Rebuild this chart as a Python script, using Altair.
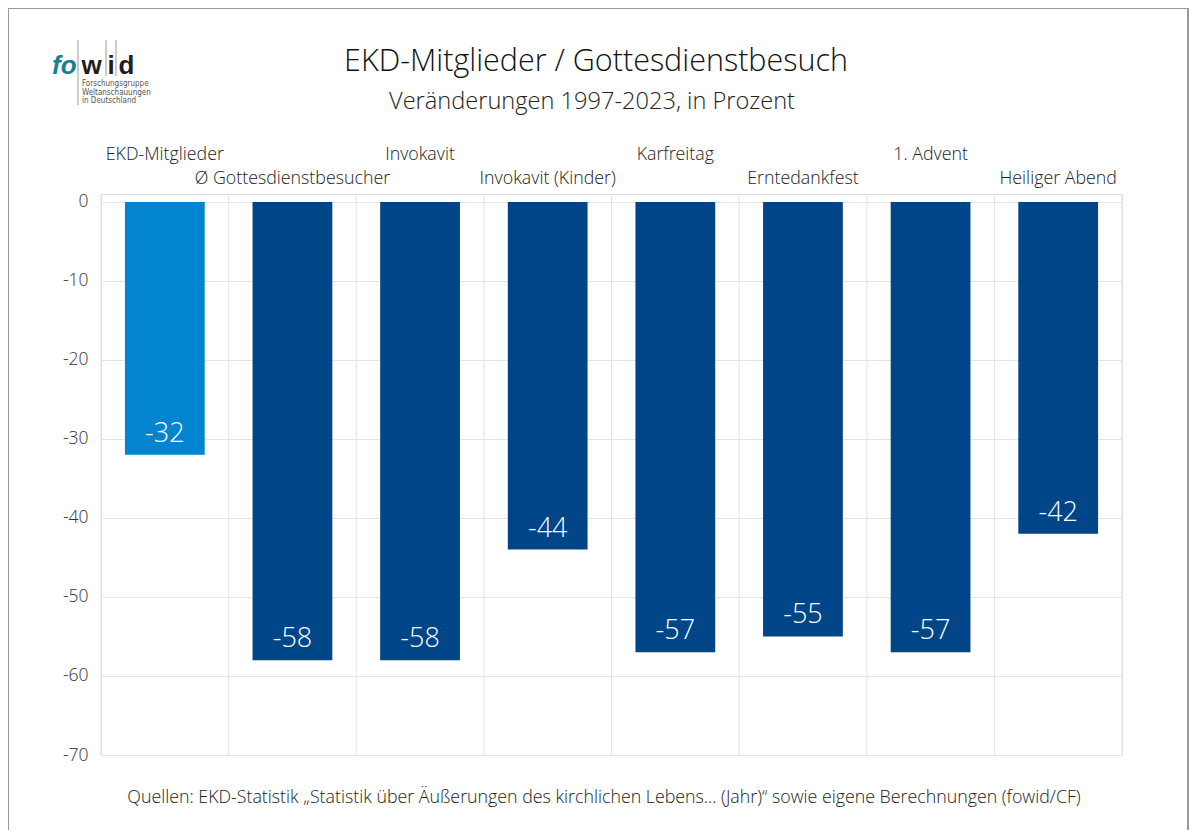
import altair as alt
import pandas as pd

categories = ["EKD-Mitglieder", "Ø Gottesdienstbesucher", "Invokavit", "Invokavit (Kinder)",
              "Karfreitag", "Erntedankfest", "1. Advent", "Heiliger Abend"]
values = [-32, -58, -58, -44, -57, -55, -57, -42]
groups = ["Mitglieder", "Besuch", "Besuch", "Besuch", "Besuch", "Besuch", "Besuch", "Besuch"]
y_ticks = [0, -10, -20, -30, -40, -50, -60, -70]

title_text = "EKD-Mitglieder / Gottesdienstbesuch"
subtitle_text = "Veränderungen 1997-2023, in Prozent"
footer_text = ("Quellen: EKD-Statistik „Statistik über Äußerungen des kirchlichen Lebens... (Jahr)“ "
               "sowie eigene Berechnungen (fowid/CF)")
logo_lines = ["Forschungsgruppe", "Weltanschauungen", "in Deutschland"]

df = pd.DataFrame({"category": categories, "value": values, "group": groups})
df["row"] = [i % 2 for i in range(len(df))]

W, H = 1021, 561
PL, PT = 93, 186  # padding left/top -> plot origin at page (101, 194)
FONT = "Open Sans"
LW = 300
GRID = "#e4e4e4"

xenc = alt.X("category:N", sort=categories,
             scale=alt.Scale(paddingInner=0.375, paddingOuter=0.1875), axis=None)
yscale = alt.Scale(domain=[-70, 1], nice=False)

base = alt.Chart(df).encode(x=xenc)

vgrid = base.mark_rule(color=GRID, strokeWidth=1, xOffset=-W / 16).encode(
    y=alt.value(0), y2=alt.value(H))
one = alt.Chart(pd.DataFrame({"k": [0]}))
vgrid_end = one.mark_rule(color=GRID, strokeWidth=1).encode(
    x=alt.value(W), y=alt.value(0), y2=alt.value(H))

bars = base.mark_bar().encode(
    y=alt.Y("value:Q", scale=yscale,
            axis=alt.Axis(values=y_ticks, grid=True, gridColor=GRID, domain=False, ticks=False,
                          labelFont=FONT, labelFontSize=17.5, labelFontWeight=LW, labelColor="#333",
                          labelPadding=13, title=None, labelExpr="toString(datum.value)")),
    color=alt.Color("group:N", scale=alt.Scale(domain=["Mitglieder", "Besuch"],
                                               range=["#0284CF", "#004587"]), legend=None),
)

vlabels = base.transform_calculate(lbl="toString(datum.value)").mark_text(
    color="white", font=FONT, fontSize=27, fontWeight=LW, baseline="alphabetic",
    dy=-13).encode(y=alt.Y("value:Q", scale=yscale), text="lbl:N")

cat0 = base.transform_filter("datum.row == 0").mark_text(
    font=FONT, fontSize=17.8, fontWeight=LW, color="#222", baseline="alphabetic").encode(
    y=alt.value(-34), text="category:N")
cat1 = base.transform_filter("datum.row == 1").mark_text(
    font=FONT, fontSize=17.8, fontWeight=LW, color="#222", baseline="alphabetic").encode(
    y=alt.value(-10), text="category:N")

def txt(s, x, y, size, color="#222", align="center", weight=LW, font=FONT, style="normal"):
    return alt.Chart(pd.DataFrame({"t": [s]})).mark_text(
        font=font, fontSize=size, color=color, align=align, baseline="alphabetic",
        fontWeight=weight, fontStyle=style).encode(
        text="t:N", x=alt.value(x - 8 - PL), y=alt.value(y - 8 - PT))

title = txt(title_text, 596, 71, 30.5, color="#111")
subtitle = txt(subtitle_text, 592, 109, 23.6, color="#222")
footer = txt(footer_text, 604, 803, 17.8, color="#222")

# logo
LF = "Liberation Sans"
logo_fo = txt("fo", 52, 74, 26, color="#1b7f92", align="left", weight="bold", font=LF, style="italic")
logo_w = txt("w", 91.5, 74, 26, color="#1e1e1e", weight="bold", font=LF)
logo_i = txt("i", 111, 74, 26, color="#1e1e1e", weight="bold", font=LF)
logo_d = txt("d", 126.5, 74, 26, color="#1e1e1e", weight="bold", font=LF)
logo_small = [txt(s, 82, 86 + 8.5 * i, 8, color="#555", align="left", weight="normal",
                  font="DejaVu Sans Condensed")
              for i, s in enumerate(logo_lines)]
logo_rules = [one.mark_rule(color="#999", strokeWidth=1).encode(
    x=alt.value(px - 8 - PL), y=alt.value(40 - 8 - PT), y2=alt.value(yb - 8 - PT))
    for px, yb in ((78, 105), (106, 76), (116, 76))]

border = one.mark_rect(fill=None, stroke="#9a9a9a", strokeWidth=2).encode(
    x=alt.value(8 - 8 - PL), x2=alt.value(1188 - 8 - PL),
    y=alt.value(8 - 8 - PT), y2=alt.value(832 - 8 - PT))

layers = [vgrid, vgrid_end, bars, vlabels, cat0, cat1, title, subtitle, footer,
          logo_fo, logo_w, logo_i, logo_d] + logo_small + logo_rules + [border]

chart = alt.layer(*layers).properties(
    width=W, height=H,
    autosize=alt.AutoSizeParams(type="none"),
    padding={"left": PL, "top": PT, "right": 1200 - 16 - PL - W, "bottom": 838 - 16 - PT - H},
).configure_view(stroke=None).configure(background="white")

chart.save("out.html", embed_options={"renderer": "svg", "actions": False})
